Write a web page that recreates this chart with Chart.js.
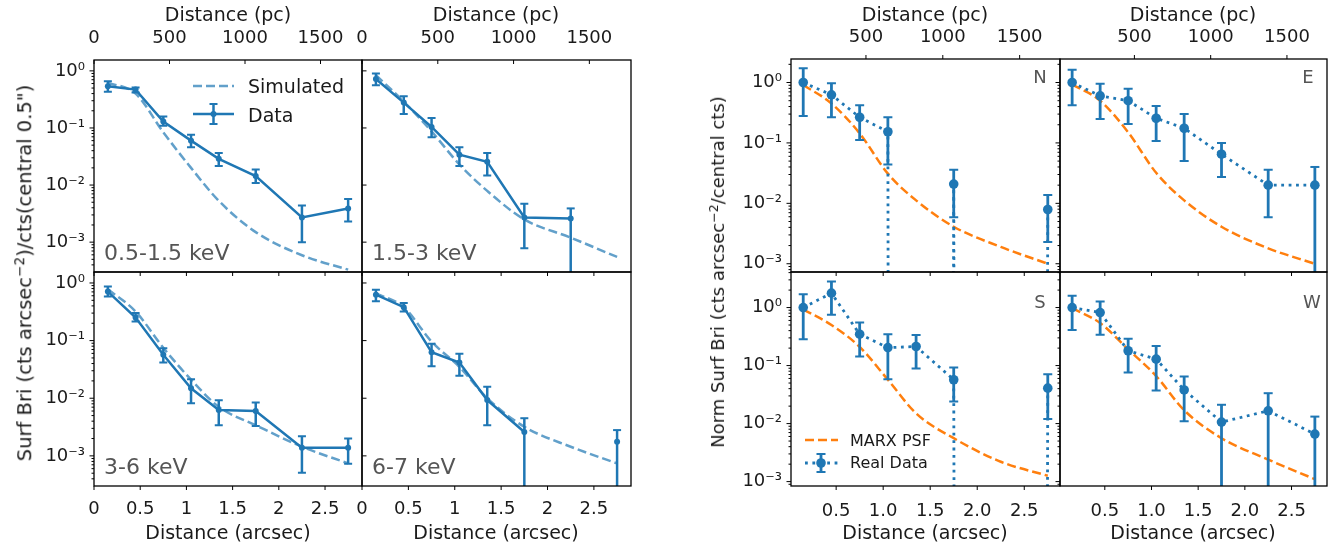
<!DOCTYPE html>
<html>
<head>
<meta charset="utf-8">
<script src="https://cdn.jsdelivr.net/npm/chart.js@4.4.0/dist/chart.umd.min.js"></script>
<style>
  body { margin: 0; background: #fff; width: 1336px; height: 549px; position: relative; overflow: hidden;
         font-family: "DejaVu Sans", sans-serif; color: #1a1a1a; }
  canvas { position: absolute; left: 0; top: 0; }
  .t { position: absolute; white-space: nowrap; line-height: 1; transform: translate(-50%, -50%); z-index: 5; }
  .l { position: absolute; white-space: nowrap; line-height: 1; transform: translate(0, -50%); z-index: 5; }
  .r { position: absolute; white-space: nowrap; line-height: 1; transform: translate(-50%, -50%) rotate(-90deg); z-index: 5; }
  .g { color: #555; }
  sup { font-size: 0.7em; vertical-align: baseline; position: relative; top: -0.5em; }
</style>
</head>
<body>
<canvas id="c0" width="1336" height="549"></canvas>
<canvas id="c1" width="1336" height="549"></canvas>
<canvas id="c2" width="1336" height="549"></canvas>
<canvas id="c3" width="1336" height="549"></canvas>
<canvas id="c4" width="1336" height="549"></canvas>
<canvas id="c5" width="1336" height="549"></canvas>
<canvas id="c6" width="1336" height="549"></canvas>
<canvas id="c7" width="1336" height="549"></canvas>

<!-- left figure text -->
<div class="t" style="left:228px;top:14px;font-size:19px">Distance (pc)</div>
<div class="t" style="left:496px;top:14px;font-size:19px">Distance (pc)</div>
<div class="t" style="left:228px;top:532px;font-size:19px">Distance (arcsec)</div>
<div class="t" style="left:496px;top:532px;font-size:19px">Distance (arcsec)</div>
<div class="r" style="left:25px;top:273px;font-size:19.5px">Surf Bri (cts arcsec<sup>−2</sup>)/cts(central 0.5")</div>
<div class="l g" style="left:104px;top:253px;font-size:22px">0.5-1.5 keV</div>
<div class="l g" style="left:372px;top:253px;font-size:22px">1.5-3 keV</div>
<div class="l g" style="left:104px;top:467px;font-size:22px">3-6 keV</div>
<div class="l g" style="left:372px;top:467px;font-size:22px">6-7 keV</div>
<div class="l" style="left:248px;top:86px;font-size:19px">Simulated</div>
<div class="l" style="left:248px;top:115px;font-size:19px">Data</div>

<!-- right figure text -->
<div class="t" style="left:925px;top:14px;font-size:19px">Distance (pc)</div>
<div class="t" style="left:1193px;top:14px;font-size:19px">Distance (pc)</div>
<div class="t" style="left:925px;top:532px;font-size:19px">Distance (arcsec)</div>
<div class="t" style="left:1193px;top:532px;font-size:19px">Distance (arcsec)</div>
<div class="r" style="left:718px;top:272px;font-size:18px">Norm Surf Bri (cts arcsec<sup>−2</sup>/central cts)</div>
<div class="t g" style="left:1040px;top:77px;font-size:18px">N</div>
<div class="t g" style="left:1308px;top:77px;font-size:18px">E</div>
<div class="t g" style="left:1040px;top:302px;font-size:18px">S</div>
<div class="t g" style="left:1312px;top:302px;font-size:18px">W</div>
<div class="l" style="left:850px;top:441px;font-size:16px">MARX PSF</div>
<div class="l" style="left:850px;top:463px;font-size:16px">Real Data</div>

<script>
// Data ===============================================

const xArcsec = [0.15, 0.45, 0.75, 1.05, 1.35, 1.75, 2.25, 2.75];
const PC_PER_ARCSEC = 612;

const leftBottomTicks = [0, 0.5, 1, 1.5, 2, 2.5];
const rightBottomTicks = [0.5, 1, 1.5, 2, 2.5];
const leftTopTicks = [0, 500, 1000, 1500];
const rightTopTicks = [500, 1000, 1500];
const decades = [1e-3, 1e-2, 1e-1, 1];

// 0.5-1.5 keV
const softVal = [0.54, 0.47, 0.13, 0.060, 0.0288, 0.0144, 0.0027, 0.0039];
const softLo  = [0.43, 0.42, 0.109, 0.046, 0.0215, 0.0109, 0.0010, 0.0023];
const softHi  = [0.66, 0.51, 0.158, 0.076, 0.0366, 0.0188, 0.0044, 0.0057];
const softSim = [0.62, 0.40, 0.084, 0.020, 0.0053, 0.0015, 0.00059, 0.00033];

// 1.5-3 keV
const midVal = [0.72, 0.278, 0.104, 0.034, 0.0255, 0.0027, 0.0026, null];
const midLo  = [0.56, 0.176, 0.069, 0.0215, 0.0147, 0.00078, 0, null];
const midHi  = [0.90, 0.36, 0.149, 0.046, 0.0366, 0.0047, 0.0039, null];
const midSim = [0.84, 0.29, 0.087, 0.023, 0.0079, 0.0025, 0.0012, 0.00055];

// 3-6 keV
const hardVal = [0.71, 0.252, 0.0566, 0.0149, 0.00625, 0.0060, 0.00138, 0.00138];
const hardLo  = [0.585, 0.215, 0.0415, 0.0082, 0.0034, 0.0033, 0.00051, 0.00073];
const hardHi  = [0.87, 0.30, 0.074, 0.0214, 0.0092, 0.0084, 0.0022, 0.0020];
const hardSim = [0.78, 0.32, 0.075, 0.021, 0.0071, 0.0034, 0.00144, 0.00074];

// 6-7 keV
const ironVal = [0.625, 0.38, 0.063, 0.0416, 0.0093, 0.0026, null, 0.00175];
const ironLo  = [0.48, 0.32, 0.036, 0.0245, 0.0034, 0, null, 0];
const ironHi  = [0.76, 0.45, 0.088, 0.059, 0.0158, 0.0045, null, 0.0028];
const ironSim = [0.66, 0.38, 0.096, 0.035, 0.010, 0.0032, 0.00144, 0.00074];

// N / E / S / W quadrants (0 = no counts)
const nVal = [1.0, 0.625, 0.266, 0.153, 0, 0.0208, 0, 0.0079];
const nLo  = [0.28, 0.266, 0.112, 0.044, 0, 0.0059, 0, 0.0023];
const nHi  = [1.73, 0.975, 0.42, 0.266, 0, 0.036, 0, 0.0137];
const nPsf = [0.91, 0.45, 0.144, 0.031, 0.0112, 0.0041, 0.0019, 0.0010];

const eVal = [1.0, 0.60, 0.50, 0.256, 0.175, 0.065, 0.020, 0.020];
const eLo  = [0.42, 0.25, 0.206, 0.108, 0.050, 0.0274, 0.0059, 0];
const eHi  = [1.63, 0.95, 0.79, 0.41, 0.30, 0.10, 0.036, 0.040];
const ePsf = [0.93, 0.50, 0.15, 0.032, 0.0112, 0.0041, 0.0018, 0.0010];

const sVal = [1.0, 1.77, 0.347, 0.204, 0.213, 0.057, 0, 0.0408];
const sLo  = [0.285, 0.75, 0.143, 0.058, 0.089, 0.024, 0, 0.012];
const sHi  = [1.70, 2.8, 0.55, 0.347, 0.335, 0.093, 0, 0.071];
const sPsf = [0.93, 0.50, 0.21, 0.057, 0.015, 0.0056, 0.0022, 0.00126];

const wVal = [1.0, 0.82, 0.18, 0.129, 0.038, 0.0106, 0.0166, 0.0066];
const wLo  = [0.41, 0.34, 0.076, 0.037, 0.011, 0, 0, 0];
const wHi  = [1.59, 1.27, 0.29, 0.218, 0.065, 0.0211, 0.0334, 0.0132];
const wPsf = [0.98, 0.54, 0.19, 0.066, 0.017, 0.0056, 0.0024, 0.0011];

// Styles ===============================================

const W = 1336, H = 549;
const BLUE = '#1f77b4';
const LIGHTBLUE = 'rgba(31,119,180,0.7)';
const ORANGE = '#ff7f0e';
const FONT = { family: 'DejaVu Sans', size: 18 };

const figL = {
  xMin: 0, xMax: 2.9, xTicks: leftBottomTicks, topTicks: leftTopTicks, topDir: 1,
  fmt: v => String(v), yRange: [[3.1e-4, 1.55], [3.1e-4, 1.55]], bottomPad: 13,
  dataDash: [], modelColor: LIGHTBLUE, pointR: 3, errW: 2.5, cap: 4, lineW: 2.5, clipZero: false
};
const figR = {
  xMin: 0.02, xMax: 2.88, xTicks: rightBottomTicks, topTicks: rightTopTicks, topDir: -1,
  fmt: v => v.toFixed(1), yRange: [[7.3e-4, 2.45], [8.4e-4, 4.1]], bottomPad: 15,
  dataDash: [2.8, 4.6], modelColor: ORANGE, pointR: 4.8, errW: 2.8, cap: 4.5, lineW: 2.8, clipZero: true
};

const panels = [
  { id: 'c0', fig: figL, box: [94, 60, 362, 272], row: 0, col: 0, val: softVal, lo: softLo, hi: softHi, model: softSim, legend: 'L' },
  { id: 'c1', fig: figL, box: [362, 60, 631, 272], row: 0, col: 1, val: midVal, lo: midLo, hi: midHi, model: midSim },
  { id: 'c2', fig: figL, box: [94, 272, 362, 486], row: 1, col: 0, val: hardVal, lo: hardLo, hi: hardHi, model: hardSim },
  { id: 'c3', fig: figL, box: [362, 272, 631, 486], row: 1, col: 1, val: ironVal, lo: ironLo, hi: ironHi, model: ironSim },
  { id: 'c4', fig: figR, box: [791, 59, 1060, 272], row: 0, col: 0, val: nVal, lo: nLo, hi: nHi, model: nPsf },
  { id: 'c5', fig: figR, box: [1060, 59, 1327, 272], row: 0, col: 1, val: eVal, lo: eLo, hi: eHi, model: ePsf },
  { id: 'c6', fig: figR, box: [791, 272, 1060, 486], row: 1, col: 0, val: sVal, lo: sLo, hi: sHi, model: sPsf, legend: 'R' },
  { id: 'c7', fig: figR, box: [1060, 272, 1327, 486], row: 1, col: 1, val: wVal, lo: wLo, hi: wHi, model: wPsf }
];

const SUP = { '-': '⁻', '0': '⁰', '1': '¹', '2': '²', '3': '³', '4': '⁴' };
function logLabel(v) {
  const e = String(Math.round(Math.log10(v)));
  return '10' + e.split('').map(c => SUP[c]).join('');
}

// Drawing helpers ======================================

function errBar(ctx, x, yLo, yHi, cap, loCap, errW) {
  ctx.lineWidth = errW;
  ctx.beginPath(); ctx.moveTo(x, yLo); ctx.lineTo(x, yHi); ctx.stroke();
  ctx.lineWidth = 2;
  ctx.beginPath();
  ctx.moveTo(x - cap, yHi); ctx.lineTo(x + cap, yHi);
  if (loCap) { ctx.moveTo(x - cap, yLo); ctx.lineTo(x + cap, yLo); }
  ctx.stroke();
}

function drawErrors(chart, p) {
  const { ctx, chartArea: a } = chart;
  const xs = chart.scales.x, ys = chart.scales.y;
  ctx.save();
  ctx.beginPath(); ctx.rect(a.left, a.top, a.right - a.left, a.bottom - a.top); ctx.clip();
  ctx.strokeStyle = BLUE;
  xArcsec.forEach((x, i) => {
    if (!(p.val[i] > 0)) return;
    const px = xs.getPixelForValue(x);
    const yHi = ys.getPixelForValue(p.hi[i]);
    const yLo = p.lo[i] > 0 ? ys.getPixelForValue(p.lo[i]) : a.bottom + 20;
    errBar(ctx, px, yLo, yHi, p.fig.cap, p.lo[i] > 0, p.fig.errW);
  });
  ctx.restore();
}

function drawFrame(chart, p) {
  const { ctx, chartArea: a, scales } = chart;
  const f = p.fig;
  const yDir = (f === figL && p.col === 1) ? 1 : -1;
  const minor = !(f === figL && p.col === 1);
  ctx.save();
  ctx.strokeStyle = '#000';
  ctx.lineWidth = 1;
  ctx.beginPath();
  f.xTicks.forEach(v => {
    const x = scales.x.getPixelForValue(v);
    ctx.moveTo(x, a.bottom); ctx.lineTo(x, a.bottom + 4);
  });
  if (p.row === 0) {
    f.topTicks.forEach(v => {
      const x = scales.x2.getPixelForValue(v);
      ctx.moveTo(x, a.top); ctx.lineTo(x, a.top + f.topDir * 4);
    });
  }
  const [yMin, yMax] = f.yRange[p.row];
  decades.forEach(v => {
    if (v < yMin || v > yMax) return;
    const y = scales.y.getPixelForValue(v);
    ctx.moveTo(a.left, y); ctx.lineTo(a.left + yDir * 4.5, y);
  });
  if (minor) {
    for (let e = -4; e <= 0; e++) {
      for (let m = 2; m <= 9; m++) {
        const v = m * Math.pow(10, e);
        if (v <= yMin || v >= yMax) continue;
        const y = scales.y.getPixelForValue(v);
        ctx.moveTo(a.left, y); ctx.lineTo(a.left - 2.5, y);
      }
    }
  }
  ctx.stroke();
  ctx.lineWidth = 1.3;
  ctx.strokeRect(a.left, a.top, a.right - a.left, a.bottom - a.top);
  ctx.restore();
}

function drawLegend(ctx, kind) {
  ctx.save();
  if (kind === 'L') {
    ctx.strokeStyle = LIGHTBLUE; ctx.lineWidth = 2.5; ctx.setLineDash([9, 4]);
    ctx.beginPath(); ctx.moveTo(193, 86); ctx.lineTo(234, 86); ctx.stroke();
    ctx.setLineDash([]);
    ctx.strokeStyle = BLUE;
    ctx.beginPath(); ctx.moveTo(193, 114); ctx.lineTo(234, 114); ctx.stroke();
    errBar(ctx, 213.5, 124, 104, 4, true, 2.5);
    ctx.fillStyle = BLUE;
    ctx.beginPath(); ctx.arc(213.5, 114, 3, 0, Math.PI * 2); ctx.fill();
  } else {
    ctx.strokeStyle = ORANGE; ctx.lineWidth = 2.5; ctx.setLineDash([9, 4]);
    ctx.beginPath(); ctx.moveTo(805, 440); ctx.lineTo(838, 440); ctx.stroke();
    ctx.strokeStyle = BLUE; ctx.lineWidth = 2.8; ctx.setLineDash([2.8, 4.6]);
    ctx.beginPath(); ctx.moveTo(805, 463); ctx.lineTo(838, 463); ctx.stroke();
    ctx.setLineDash([]);
    errBar(ctx, 821, 472, 454, 4.5, true, 2.8);
    ctx.fillStyle = BLUE;
    ctx.beginPath(); ctx.arc(821, 463, 4.8, 0, Math.PI * 2); ctx.fill();
  }
  ctx.restore();
}

// Chart setup ==========================================

function makePanel(p) {
  const f = p.fig;
  const [left, top, right, bottom] = p.box;
  const [yMin, yMax] = f.yRange[p.row];
  // log axis: non-positive values are pushed far below the axis like matplotlib's clip
  const dataPts = xArcsec.map((x, i) => {
    const v = p.val[i];
    if (v === null) return { x, y: null };
    return { x, y: v > 0 ? v : (f.clipZero ? 1e-300 : null) };
  });
  const modelPts = xArcsec.map((x, i) => ({ x, y: p.model[i] }));

  const plugin = {
    id: 'panelFrame',
    beforeDatasetDraw(chart, args) { if (args.index === 0) drawErrors(chart, p); },
    afterDraw(chart) {
      drawFrame(chart, p);
      if (p.legend) drawLegend(chart.ctx, p.legend);
    }
  };

  new Chart(document.getElementById(p.id), {
    type: 'line',
    data: {
      datasets: [
        {
          label: 'Data', data: dataPts, xAxisID: 'x', yAxisID: 'y',
          borderColor: BLUE, backgroundColor: BLUE, borderWidth: f.lineW, borderDash: f.dataDash,
          pointRadius: dataPts.map(d => (d.y && d.y > 1e-200 ? f.pointR : 0)),
          pointBorderWidth: 0, pointBackgroundColor: BLUE, tension: 0, spanGaps: false
        },
        {
          label: 'Model', data: modelPts, xAxisID: 'x', yAxisID: 'y',
          borderColor: f.modelColor, borderWidth: 2.5, borderDash: [9, 4],
          pointRadius: 0, cubicInterpolationMode: 'monotone'
        }
      ]
    },
    options: {
      responsive: false, animation: false, devicePixelRatio: 1,
      layout: { padding: { left: 0, top: 0, bottom: 0, right: W - right } },
      plugins: { legend: { display: false }, tooltip: { enabled: false } },
      events: [],
      scales: {
        x: {
          type: 'linear', position: 'bottom', min: f.xMin, max: f.xMax,
          grid: { display: false, drawTicks: false }, border: { display: false },
          afterBuildTicks: s => { s.ticks = f.xTicks.map(v => ({ value: v })); },
          afterFit: s => { s.height = H - bottom; },
          ticks: { display: p.row === 1, padding: f.bottomPad, font: FONT, color: '#1a1a1a',
                   maxRotation: 0, minRotation: 0, autoSkip: false, callback: v => f.fmt(v) }
        },
        x2: {
          type: 'linear', position: 'top', min: f.xMin * PC_PER_ARCSEC, max: f.xMax * PC_PER_ARCSEC,
          grid: { display: false, drawTicks: false }, border: { display: false },
          afterBuildTicks: s => { s.ticks = f.topTicks.map(v => ({ value: v })); },
          afterFit: s => { s.height = top; },
          ticks: { display: p.row === 0, padding: 11, font: FONT, color: '#1a1a1a',
                   maxRotation: 0, minRotation: 0, autoSkip: false, callback: v => String(v) }
        },
        y: {
          type: 'logarithmic', position: 'left', min: yMin, max: yMax,
          grid: { display: false, drawTicks: false }, border: { display: false },
          afterBuildTicks: s => { s.ticks = decades.filter(v => v >= yMin && v <= yMax).map(v => ({ value: v })); },
          afterFit: s => { s.width = left; },
          ticks: { display: p.col === 0, padding: 9, font: FONT, color: '#1a1a1a', autoSkip: false,
                   callback: v => logLabel(v) }
        }
      }
    },
    plugins: [plugin]
  });
}

panels.forEach(makePanel);
</script>
</body>
</html>
